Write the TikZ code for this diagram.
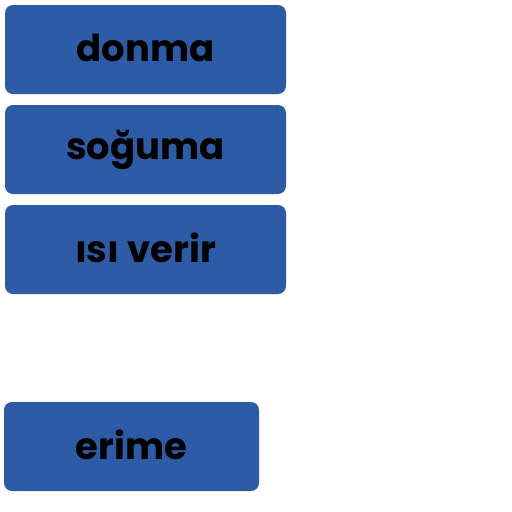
\documentclass[tikz,border=0pt]{standalone}
\usepackage{fontspec}
\setmainfont{Poppins}
\definecolor{boxblue}{HTML}{2E5BA6}
\newcommand{\cardtext}[1]{\raisebox{3pt}{#1}}
\tikzset{
  card/.style={fill=boxblue, draw=none, rounded corners=8pt, inner sep=0pt,
    font=\fontsize{37}{44}\selectfont\bfseries, text=black, anchor=center}
}
\begin{document}
\begin{tikzpicture}[x=1pt,y=-1pt]
\useasboundingbox (0,0) rectangle (512,512);
\node[card, minimum width=281pt, minimum height=89pt] (donma) at (145.5,49.5) {\cardtext{donma}};
\node[card, minimum width=281pt, minimum height=89pt] (soguma) at (145.5,149.5) {\cardtext{soğuma}};
\node[card, minimum width=281pt, minimum height=89pt] (isi) at (145.5,249.5) {\cardtext{ısı verir}};
\node[card, minimum width=255pt, minimum height=89pt] (erime) at (131.5,446.5) {\cardtext{erime}};
\end{tikzpicture}
\end{document}
